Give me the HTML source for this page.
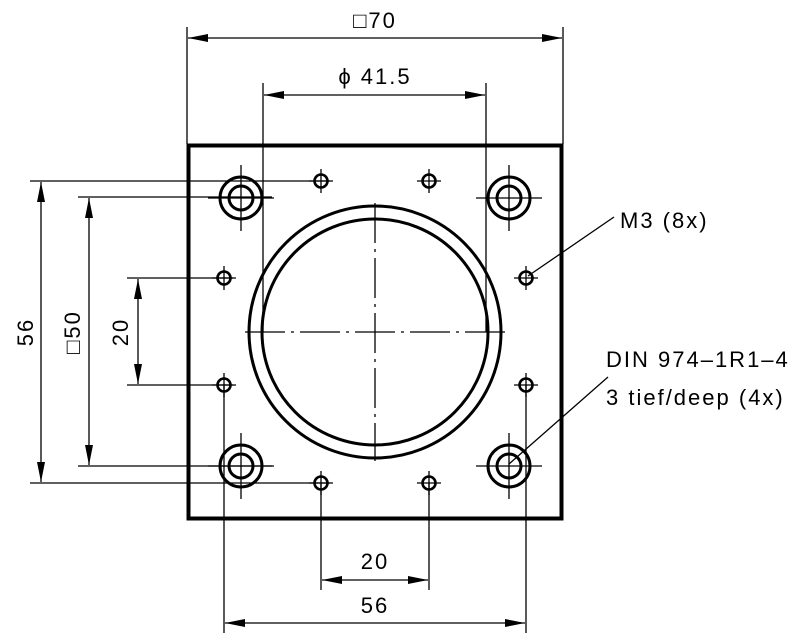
<!DOCTYPE html>
<html><head><meta charset="utf-8"><style>html,body{margin:0;padding:0;background:#fff}svg{display:block}text{font-family:"Liberation Sans",sans-serif;font-size:22px;fill:#000;letter-spacing:2px}</style></head><body>
<svg width="800" height="640" viewBox="0 0 800 640" xmlns="http://www.w3.org/2000/svg">
<defs>
<marker id="a" viewBox="0 0 20 8" refX="20" refY="4" markerWidth="20" markerHeight="8" markerUnits="userSpaceOnUse" orient="auto-start-reverse"><path d="M0,0 L20,4 L0,8Z" fill="#000"/></marker>
</defs>
<g stroke="#000" stroke-width="1.3" fill="none">
<line x1="187" y1="27" x2="187" y2="144"/><line x1="563" y1="27" x2="563" y2="144"/>
<line x1="188" y1="38" x2="562" y2="38" marker-start="url(#a)" marker-end="url(#a)"/>
<line x1="263" y1="83" x2="263" y2="332"/><line x1="486" y1="83" x2="486" y2="332"/>
<line x1="264" y1="95" x2="485" y2="95" marker-start="url(#a)" marker-end="url(#a)"/>
<line x1="30" y1="181" x2="330" y2="181"/><line x1="30" y1="483" x2="330" y2="483"/>
<line x1="78" y1="197" x2="272" y2="197"/><line x1="78" y1="466" x2="272" y2="466"/>
<line x1="127" y1="278" x2="233" y2="278"/><line x1="127" y1="385" x2="233" y2="385"/>
<line x1="41" y1="182" x2="41" y2="482" marker-start="url(#a)" marker-end="url(#a)"/>
<line x1="89" y1="198" x2="89" y2="465" marker-start="url(#a)" marker-end="url(#a)"/>
<line x1="138" y1="279" x2="138" y2="384" marker-start="url(#a)" marker-end="url(#a)"/>
<line x1="224" y1="385" x2="224" y2="633"/><line x1="526" y1="385" x2="526" y2="633"/>
<line x1="321" y1="483" x2="321" y2="590"/><line x1="429" y1="483" x2="429" y2="590"/>
<line x1="322" y1="580" x2="428" y2="580" marker-start="url(#a)" marker-end="url(#a)"/>
<line x1="225" y1="623" x2="525" y2="623" marker-start="url(#a)" marker-end="url(#a)"/>
<line x1="245" y1="332" x2="505" y2="332" stroke-dasharray="40,6,3,6"/>
<line x1="375" y1="203" x2="375" y2="461" stroke-dasharray="40,6,3,6"/>
<line x1="528" y1="276" x2="614" y2="217"/>
<line x1="509" y1="464" x2="608" y2="377"/>
</g>
<rect x="188.5" y="145.5" width="373" height="373" fill="none" stroke="#000" stroke-width="4"/>
<g stroke="#000" fill="none">
<circle cx="375" cy="332" r="126" stroke-width="3"/>
<circle cx="375" cy="332" r="113" stroke-width="3"/>
<g id="bh">
<circle cx="241" cy="198" r="21" stroke-width="3"/>
<circle cx="241" cy="198" r="12" stroke-width="3"/>
<line x1="208" y1="198" x2="274" y2="198" stroke-width="1.3"/>
<line x1="241" y1="165" x2="241" y2="231" stroke-width="1.3"/>
</g>
<use href="#bh" x="268"/><use href="#bh" y="268"/><use href="#bh" x="268" y="268"/>
<g id="sh"><circle cx="321" cy="181" r="6.5" stroke-width="2.6"/>
<line x1="309" y1="181" x2="333" y2="181" stroke-width="1.3"/><line x1="321" y1="169" x2="321" y2="193" stroke-width="1.3"/></g>
<use href="#sh" x="108"/><use href="#sh" y="302"/><use href="#sh" x="108" y="302"/>
<use href="#sh" x="-97" y="97"/><use href="#sh" x="-97" y="204"/><use href="#sh" x="205" y="97"/><use href="#sh" x="205" y="204"/>
</g>
<text x="375" y="28" text-anchor="middle">□70</text>
<text x="375" y="84" text-anchor="middle">ϕ 41.5</text>
<text x="375" y="569" text-anchor="middle">20</text>
<text x="375" y="613" text-anchor="middle">56</text>
<text transform="translate(33,332) rotate(-90)" text-anchor="middle">56</text>
<text transform="translate(80,332) rotate(-90)" text-anchor="middle">□50</text>
<text transform="translate(128,332) rotate(-90)" text-anchor="middle">20</text>
<text x="620" y="228">M3 (8x)</text>
<text x="606" y="367">DIN 974–1R1–4</text>
<text x="606" y="405">3 tief/deep (4x)</text>
</svg>
</body></html>
